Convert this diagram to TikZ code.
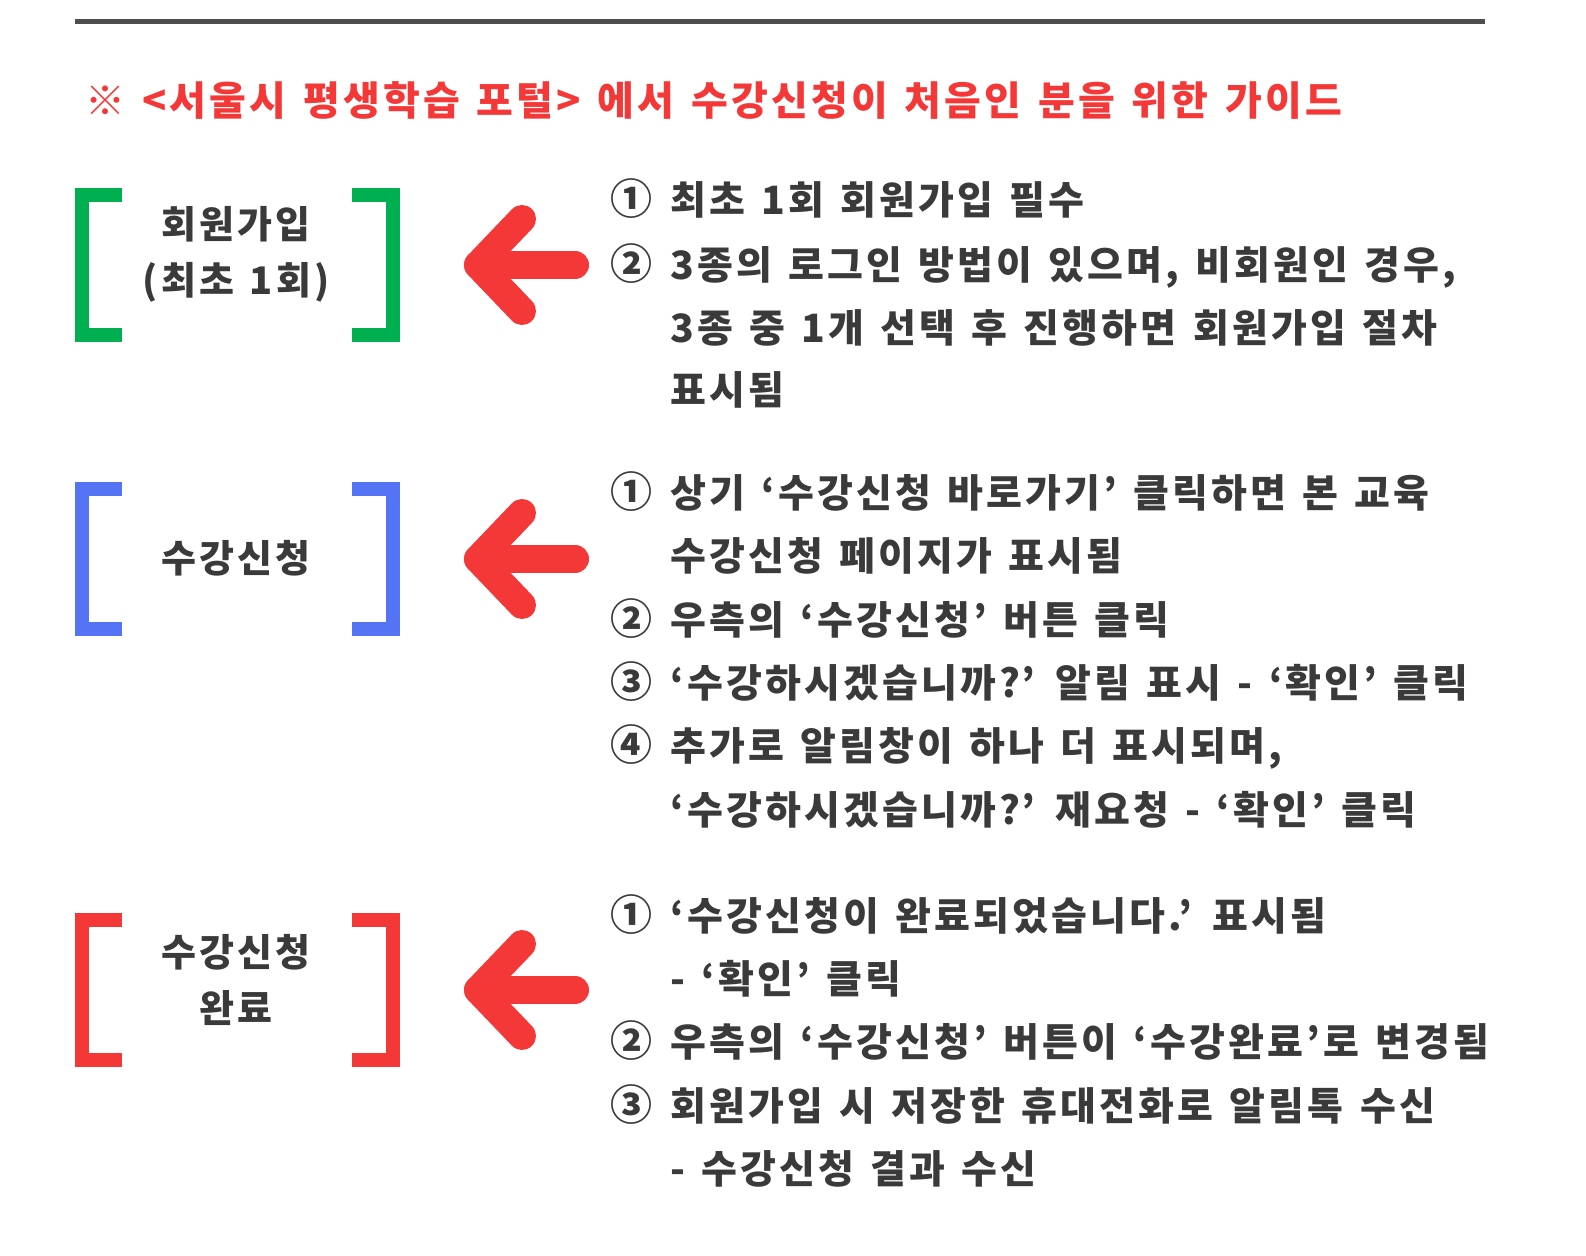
\documentclass[tikz,border=0pt]{standalone}
\usepackage{fontspec}
\setmainfont{Noto Sans CJK KR}[LetterSpace=8,WordSpace=1.35]
\definecolor{txt}{HTML}{3A3A3A}
\definecolor{ared}{HTML}{F43838}
\definecolor{bgreen}{HTML}{00B050}
\definecolor{bblue}{HTML}{5574F5}
\tikzset{
 br/.style={line width=7pt},
 arr/.style={ared,line width=14pt,line cap=round,line join=round},
 lbl/.style={font=\fontsize{19}{28}\selectfont\bfseries,text=txt,align=center},
 num/.style={font=\fontsize{21}{22}\selectfont\bfseries,text=txt,anchor=base west,inner sep=0},
 ln/.style={font=\fontsize{19.5}{22}\selectfont\bfseries,text=txt,anchor=base west,inner sep=0}
}
\begin{document}
\begin{tikzpicture}[x=0.5pt,y=-0.5pt]
\useasboundingbox (0,0) rectangle (1586,1256);
\draw[line width=2.5pt,color=txt!90] (75,22) -- (1485,22);
\node[anchor=base west,inner sep=0,text=ared,font=\fontsize{20}{24}\selectfont\bfseries] (title) at (85,116) {※ <서울시 평생학습 포털> 에서 수강신청이 처음인 분을 위한 가이드};
% brackets
\foreach \c/\t/\b/\n in {bgreen/195/335/g, bblue/489/629/b, ared/920/1060/r}{
 \draw[br,\c] (122,\t) -- (82,\t) -- (82,\b) -- (122,\b);
 \draw[br,\c] (352,\t) -- (393,\t) -- (393,\b) -- (352,\b);
 \draw[arr] (575,{(\t+\b)/2}) -- (478,{(\t+\b)/2});
 \draw[arr] (522,{(\t+\b)/2-46}) -- (478,{(\t+\b)/2}) -- (522,{(\t+\b)/2+46});
}
\node[lbl] (l1) at (236,254) {회원가입\\(최초 1회)};
\node[lbl] (l2) at (236,558) {수강신청};
\node[lbl] (l3) at (236,980) {수강신청\\완료};
% text
\def\L#1#2#3{\node[num] at (610,#1) {#2}; \node[ln] at (670,#1) {#3};}
\def\M#1#2{\node[ln] at (670,#1) {#2};}
\L{215}{①}{최초 1회 회원가입 필수}
\L{280}{②}{3종의 로그인 방법이 있으며, 비회원인 경우,}
\M{343}{3종 중 1개 선택 후 진행하면 회원가입 절차}
\M{405}{표시됨}
\L{508}{①}{상기 ‘수강신청 바로가기’ 클릭하면 본 교육}
\M{571}{수강신청 페이지가 표시됨}
\L{635}{②}{우측의 ‘수강신청’ 버튼 클릭}
\L{698}{③}{‘수강하시겠습니까?’ 알림 표시 - ‘확인’ 클릭}
\L{761}{④}{추가로 알림창이 하나 더 표시되며,}
\M{825}{‘수강하시겠습니까?’ 재요청 - ‘확인’ 클릭}
\L{930}{①}{‘수강신청이 완료되었습니다.’ 표시됨}
\M{993}{- ‘확인’ 클릭}
\L{1056}{②}{우측의 ‘수강신청’ 버튼이 ‘수강완료’로 변경됨}
\L{1120}{③}{회원가입 시 저장한 휴대전화로 알림톡 수신}
\M{1183}{- 수강신청 결과 수신}
\end{tikzpicture}
\end{document}
